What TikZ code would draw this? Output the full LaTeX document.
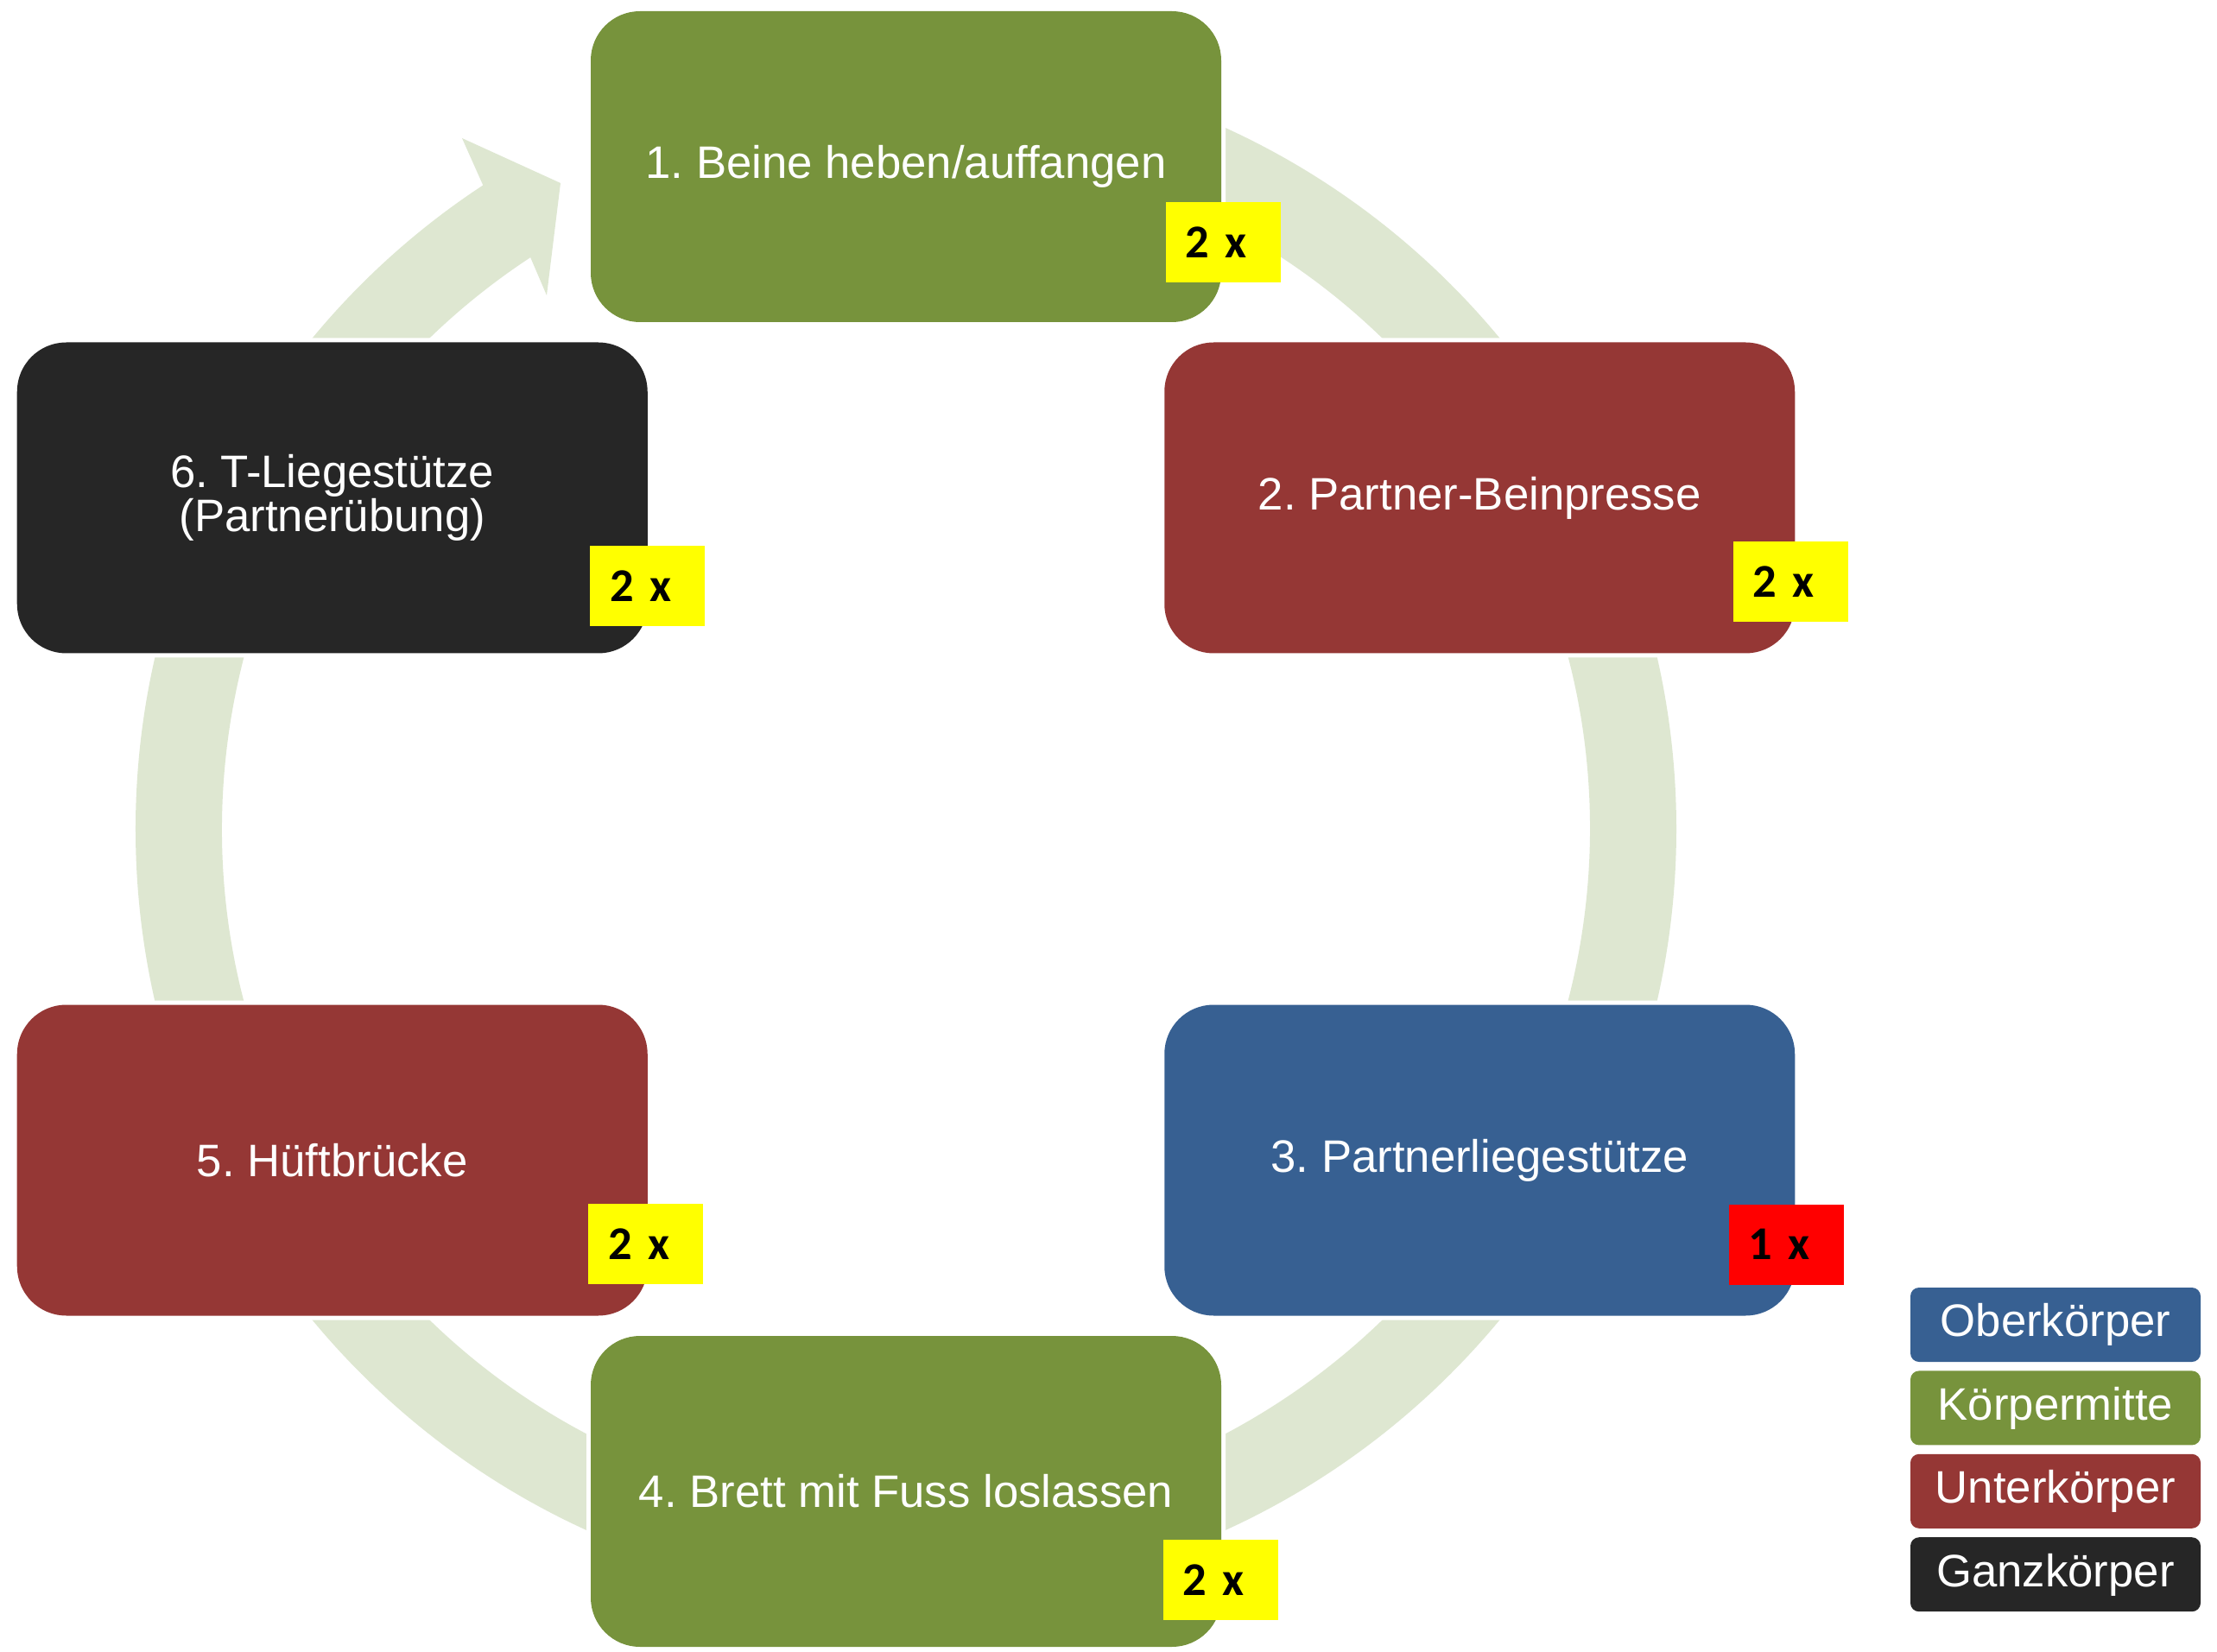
\documentclass[tikz,border=0pt]{standalone}
\usepackage{fontspec}
\setmainfont{Liberation Sans}
\newfontfamily\zahlfont{Carlito}
\usetikzlibrary{positioning}
\definecolor{oben}{RGB}{55,96,146}
\definecolor{mitte}{RGB}{119,147,60}
\definecolor{unten}{RGB}{149,55,53}
\definecolor{ganz}{RGB}{38,38,38}
\definecolor{kreis}{RGB}{222,231,209}
\definecolor{gelb}{RGB}{255,255,0}

\begin{document}
\frenchspacing
\begin{tikzpicture}[x=0.1mm, y=0.1mm,
	station/.style={shape=rectangle, rounded corners=5.7mm, minimum width=73mm, minimum height=36mm, inner sep=0pt, outer sep=0pt, text=white, align=center, font=\fontsize{15}{14.6}\selectfont, preaction={draw=white, line width=1mm}},
	anzahl/.style={shape=rectangle, fill=gelb, anchor=south west, minimum width=13.3mm, minimum height=9.3mm, inner xsep=2.3mm, text width=8.7mm, align=left, font=\zahlfont\bfseries\fontsize{15.5}{16}\selectfont},
	legende/.style={shape=rectangle, rounded corners=1mm, minimum width=33.6mm, minimum height=8.6mm, inner sep=0pt, text=white, text depth=0.3em, font=\fontsize{15}{16}\selectfont}]
		
		\fill[white] (-1049,-946) rectangle (1518,960);
		\fill[kreis] (90:892) arc[start angle=90, end angle=-236.7, radius=892] -- (-514,800) -- (-400,748) -- (-416,618) -- (-236.7:792) arc[start angle=-236.7, end angle=90, radius=792] -- cycle;
		
		\node (s1) at (90 : 767) [station, fill=mitte] {1. Beine heben/auffangen};
		\node (s2) at (30 : 767) [station, fill=unten] {2. Partner-Beinpresse};
		\node (s3) at (-30 : 767) [station, fill=oben] {3. Partnerliegestütze};
		\node (s4) at (-90 : 767) [station, fill=mitte] {4. Brett mit Fuss loslassen};
		\node (s5) at (-150 : 767) [station, fill=unten] {5. Hüftbrücke};
		\node (s6) at (150 : 767) [station, fill=ganz] {6. T-Liegestütze\\(Partnerübung)};
		
		\node (n1) at ([shift={(-65,45)}]s1.south east) [anzahl] {2 x};
		\node (n2) at ([shift={(-72,36)}]s2.south east) [anzahl] {2 x};
		\node (n3) at ([shift={(-77,35)}]s3.south east) [anzahl, fill=red] {1 x};
		\node (n4) at ([shift={(-68,30)}]s4.south east) [anzahl] {2 x};
		\node (n5) at ([shift={(-69,36)}]s5.south east) [anzahl] {2 x};
		\node (n6) at ([shift={(-67,31)}]s6.south east) [anzahl] {2 x};
		
		\node (l1) at (1331,-574) [legende, fill=oben] {Oberkörper};
		\node (l2) [legende, fill=mitte, below=0.9mm of l1] {Körpermitte};
		\node (l3) [legende, fill=unten, below=0.9mm of l2] {Unterkörper};
		\node (l4) [legende, fill=ganz, below=0.9mm of l3] {Ganzkörper};
	\end{tikzpicture}
\end{document}
